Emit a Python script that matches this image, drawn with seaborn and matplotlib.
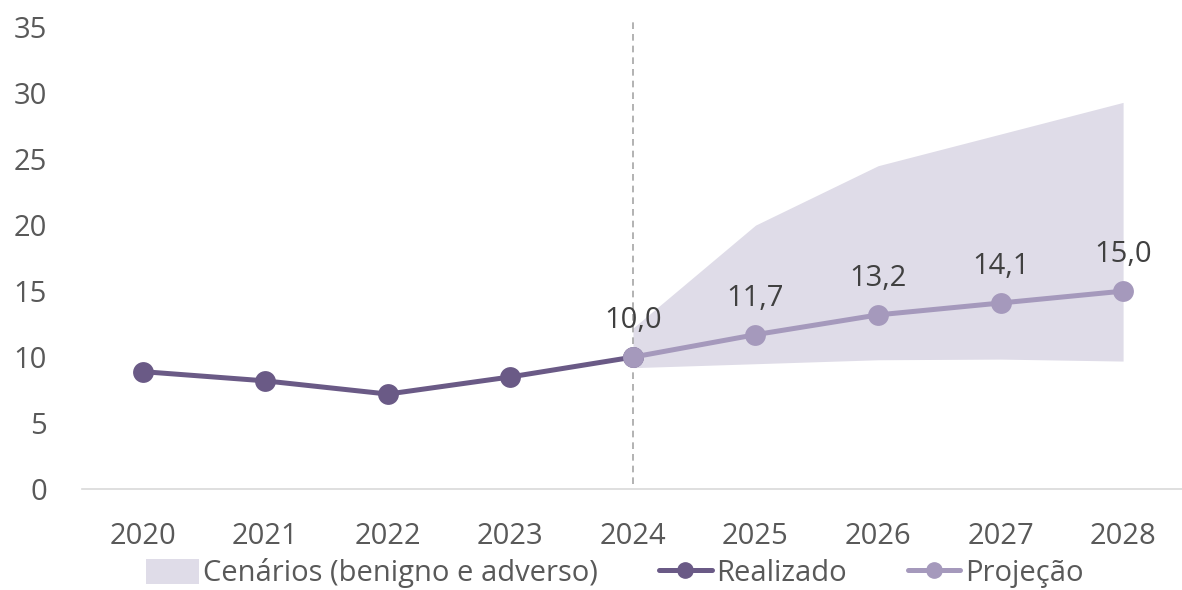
import matplotlib
matplotlib.use("Agg")
import matplotlib.pyplot as plt
import pandas as pd
import seaborn as sns
from matplotlib.patches import Patch
from matplotlib.lines import Line2D

years_real = [2020, 2021, 2022, 2023, 2024]
realizado = [8.9, 8.2, 7.2, 8.5, 10.0]

years_proj = [2024, 2025, 2026, 2027, 2028]
projecao = [10.0, 11.7, 13.2, 14.1, 15.0]
labels_proj = ["10,0", "11,7", "13,2", "14,1", "15,0"]

cenario_sup = [12.2, 20.0, 24.5, 26.9, 29.3]
cenario_inf = [9.2, 9.5, 9.8, 9.85, 9.7]

all_years = [2020, 2021, 2022, 2023, 2024, 2025, 2026, 2027, 2028]

c_real = "#6A5A86"
c_proj = "#A599BC"
c_band = "#DFDCE8"
c_text = "#595959"

sns.set_theme(style="white")
plt.rcParams["font.family"] = ["Open Sans", "DejaVu Sans"]

df_real = pd.DataFrame({"ano": years_real, "valor": realizado})
df_proj = pd.DataFrame({"ano": years_proj, "valor": projecao})

fig = plt.figure(figsize=(11.82, 5.9), dpi=100)
ax = fig.add_axes([0.069, 0.171, 0.933, 0.783])

ax.fill_between(years_proj, cenario_inf, cenario_sup, color=c_band, linewidth=0, zorder=1)
ax.axvline(2024, ymin=0.01, ymax=1.02, color="#A6A6A6", linestyle=(0, (4, 3)),
           linewidth=1.2, zorder=2, clip_on=False)

sns.lineplot(data=df_real, x="ano", y="valor", ax=ax, color=c_real, linewidth=3.6,
             marker="o", markersize=15, markeredgewidth=0, zorder=3)
sns.lineplot(data=df_proj, x="ano", y="valor", ax=ax, color=c_proj, linewidth=3.6,
             marker="o", markersize=15, markeredgewidth=0, zorder=4)

for x, y, s in zip(years_proj, projecao, labels_proj):
    ax.annotate(s, (x, y), xytext=(0, 21), textcoords="offset points",
                ha="center", va="baseline", fontsize=21, color="#404040")

ax.set_xlim(2019.5, 2028.5)
ax.set_ylim(0, 35)
ax.set_xticks(all_years)
ax.set_xticklabels([str(y) for y in all_years])
ax.set_yticks(range(0, 36, 5))
ax.tick_params(axis="both", length=0, labelsize=21, labelcolor=c_text)
ax.tick_params(axis="y", pad=25)
ax.tick_params(axis="x", pad=24)
ax.set_xlabel("")
ax.set_ylabel("")
for side in ["top", "right", "left"]:
    ax.spines[side].set_visible(False)
ax.spines["bottom"].set_color("#D9D9D9")
ax.spines["bottom"].set_linewidth(1.2)

handles = [
    Patch(facecolor=c_band, edgecolor="none"),
    Line2D([0], [0], color=c_real, linewidth=3.6, marker="o", markersize=11),
    Line2D([0], [0], color=c_proj, linewidth=3.6, marker="o", markersize=11),
]
fig.legend(handles, ["Cenários (benigno e adverso)", "Realizado", "Projeção"],
           loc="center", bbox_to_anchor=(0.52, 0.028), ncol=3, frameon=False,
           fontsize=21, labelcolor=c_text, handlelength=1.8, handletextpad=0.15,
           columnspacing=2.1, handleheight=0.9)

fig.savefig("out.png", dpi=100)
